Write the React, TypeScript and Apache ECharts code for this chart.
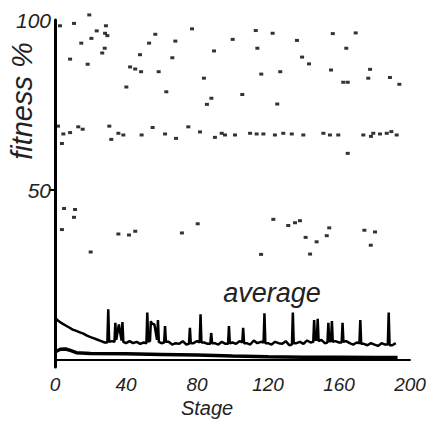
import React, { useEffect, useRef } from 'react';
import * as echarts from 'echarts';

// Upper scatter (fitness of individuals, 75-100 %)
const upperStages = [19.3, 10.7, 28.7, 23.5, 28.2, 29.5, 2.8, 20.5, 14.8, 28.0, 26.6, 8.5, 18.4, 53.0, 56.5, 67.8, 77.2, 89.6, 47.9, 66.1, 42.3, 45.2, 48.5, 58.4, 40.2, 62.7, 83.9, 88.1, 85.6, 113.1, 122.6, 100.1, 136.3, 114.0, 156.5, 169.4, 164.1, 139.2, 143.1, 116.2, 126.9, 155.5, 177.5, 176.5, 188.7, 194.0, 162.4, 164.9, 105.5, 125.2];
const upperValues = [101.5, 99.0, 98.3, 96.8, 96.1, 95.4, 98.3, 94.6, 93.2, 91.7, 90.3, 88.5, 87.0, 93.2, 95.8, 93.8, 97.4, 90.9, 89.8, 88.9, 86.2, 85.6, 84.8, 84.8, 80.3, 78.9, 82.9, 77.0, 75.2, 96.9, 96.1, 94.3, 94.0, 91.7, 96.0, 96.2, 91.7, 89.1, 87.1, 84.1, 84.8, 85.3, 85.5, 82.9, 83.1, 81.1, 81.7, 81.7, 78.1, 75.3];

// Band of points near 67 %
const bandStages = [1.7, 4.7, 8.5, 3.9, 13.1, 15.6, 30.6, 31.7, 35.7, 38.5, 48.8, 55.0, 62.0, 68.2, 75.1, 81.7, 90.1, 93.9, 95.8, 101.4, 109.9, 113.6, 117.4, 123.9, 128.6, 133.4, 139.9, 151.2, 154.9, 159.6, 173.7, 179.3, 183.1, 186.9, 192.5, 164.9, 189.5, 178.0];
const bandValues = [68.8, 66.5, 66.9, 63.7, 68.6, 67.9, 68.8, 64.9, 66.7, 66.2, 66.2, 68.4, 66.5, 65.2, 68.6, 67.1, 65.5, 66.7, 66.2, 66.2, 66.7, 66.5, 66.5, 66.2, 66.7, 66.5, 66.2, 66.7, 66.2, 66.2, 66.2, 66.7, 66.5, 66.7, 66.2, 60.8, 67.2, 65.8];

// Lower scatter (30-45 %)
const lowerStages = [5.1, 11.3, 10.7, 3.9, 20.1, 35.7, 41.7, 45.2, 71.5, 80.4, 123.0, 131.4, 135.2, 138.0, 154.5, 153.1, 141.2, 147.4, 174.3, 180.3, 177.9, 116.1, 143.7];
const lowerValues = [44.6, 44.3, 42.0, 38.4, 31.8, 37.1, 36.8, 37.9, 37.4, 40.1, 41.4, 39.6, 40.4, 41.0, 38.9, 36.6, 36.1, 34.8, 38.2, 37.7, 33.8, 31.1, 31.2];

// Average fitness line [stage, %]
const averagePoints = [
  [0, 12.5], [2, 11.5], [4, 10.8], [6, 10.2], [8, 9.6], [10, 9.0], [12, 8.6], [14, 8.2], [16, 7.8], [18, 7.2], [20, 6.8], [22, 6.4], [24, 6.0], [26, 5.6], [28, 5.2],
  [29.5, 5.2], [30, 15.0], [30.5, 5.4], [32, 5.6], [33.5, 5.4], [34, 11.0], [34.5, 6.0], [36, 10.5], [37.5, 5.8], [38, 11.2], [38.5, 5.4], [40, 5.0], [42, 5.6], [44, 5.0], [46, 5.4], [48, 4.8], [50, 5.2],
  [51.5, 5.0], [52, 14.0], [52.5, 5.6], [53.5, 5.6], [54, 11.5], [54.5, 10.8], [56, 10.5], [57.5, 6.0], [58, 11.8], [58.5, 5.4], [60, 5.0], [61.5, 5.2], [62, 10.0], [62.5, 5.4], [64, 5.4], [66, 4.6], [68, 5.0], [70, 4.8], [72, 5.6], [74, 4.6],
  [75.5, 4.8], [76, 9.5], [76.5, 5.0], [78, 5.0], [80, 5.6], [81.5, 5.2], [82, 13.5], [82.5, 5.2], [84, 5.2], [86, 4.8], [87.5, 4.8], [88, 8.0], [88.5, 5.0], [90, 5.0], [92, 4.6], [94, 5.4], [96, 4.8],
  [97.5, 4.8], [98, 10.0], [98.5, 5.0], [100, 5.2], [102, 4.8], [104, 5.6], [105.5, 5.2], [106, 9.5], [106.5, 5.0], [108, 5.0], [110, 4.6], [112, 5.8], [114, 5.0], [116, 5.4],
  [117.5, 5.2], [118, 13.8], [118.5, 5.0], [120, 5.0], [122, 4.6], [124, 5.4], [126, 5.0], [128, 4.8], [130, 5.6], [132, 4.4], [133.5, 4.6], [134, 14.0], [134.5, 5.0], [136, 5.0], [138, 5.4], [140, 4.8], [142, 5.8], [144, 5.2],
  [145.5, 5.4], [146, 11.8], [146.5, 6.0], [147.5, 6.0], [148, 12.2], [148.5, 5.6], [150, 6.0], [152, 5.0], [153.5, 5.2], [154, 11.0], [154.5, 5.6], [155.5, 5.6], [156, 11.5], [156.5, 5.4], [158, 5.6], [160, 5.2],
  [161.5, 5.2], [162, 11.0], [162.5, 5.4], [164, 5.6], [166, 5.0], [168, 4.6], [170, 5.2], [171.5, 5.0], [172, 11.8], [172.5, 4.8], [174, 4.8], [176, 4.4], [178, 5.0], [180, 4.6], [182, 4.2], [184, 5.0], [186, 4.6],
  [187.5, 4.6], [188, 14.0], [188.5, 4.4], [190, 4.4], [192, 5.0],
];

// Lowest line [stage, %]
const bottomPoints = [[0, 2.4], [3, 3.2], [6, 3.3], [9, 2.8], [12, 2.2], [20, 2.0], [40, 1.9], [60, 1.7], [80, 1.5], [100, 1.2], [120, 1.0], [140, 0.9], [160, 0.9], [180, 0.8], [193, 0.8]];

const yLabelValues = [50, 100];
const yTickValues = [50];

const FONT = '"Liberation Sans", Arial, sans-serif';
const INK = '#000';

export default function App() {
  const ref = useRef<HTMLDivElement>(null);
  useEffect(() => {
    if (!ref.current) return;
    const chart = echarts.init(ref.current, undefined, { renderer: 'svg' });
    const pts = (xs: number[], ys: number[]) => xs.map((x, i) => [x, ys[i]]);
    const scatterBase = {
      type: 'scatter',
      symbol: 'rect',
      symbolSize: [4, 3],
      itemStyle: { color: INK },
      clip: false,
    };
    chart.setOption({
      animation: false,
      backgroundColor: '#fff',
      grid: { left: 55, right: 24, top: 20, bottom: 57 },
      xAxis: {
        type: 'value',
        min: 0,
        max: 200,
        interval: 40,
        axisLine: { lineStyle: { color: INK, width: 2 } },
        axisTick: { show: false },
        splitLine: { show: false },
        axisLabel: { fontStyle: 'italic', fontSize: 19, color: '#222', margin: 8, fontFamily: FONT },
      },
      yAxis: {
        type: 'value',
        min: -2,
        max: 100,
        axisLine: { show: true, lineStyle: { color: INK, width: 3 } },
        axisTick: { show: true, customValues: yTickValues, length: 6, lineStyle: { color: INK, width: 2 } },
        splitLine: { show: false },
        axisLabel: { customValues: yLabelValues, fontStyle: 'italic', fontSize: 21, color: '#222', margin: 4, fontFamily: FONT },
      },
      graphic: [
        {
          type: 'text', x: 22, y: 101, rotation: Math.PI / 2,
          style: { text: 'fitness %', align: 'center', verticalAlign: 'middle', fontSize: 29, fontStyle: 'italic', fontFamily: FONT, fill: '#222' },
        },
        {
          type: 'text', x: 272, y: 293,
          style: { text: 'average', align: 'center', verticalAlign: 'middle', fontSize: 27, fontStyle: 'italic', fontFamily: FONT, fill: '#222' },
        },
        {
          type: 'text', x: 207, y: 408,
          style: { text: 'Stage', align: 'center', verticalAlign: 'middle', fontSize: 20, fontStyle: 'italic', fontFamily: FONT, fill: '#222' },
        },
      ],
      series: [
        { ...scatterBase, name: 'upper', data: pts(upperStages, upperValues) },
        { ...scatterBase, name: 'band', data: pts(bandStages, bandValues) },
        { ...scatterBase, name: 'lower', data: pts(lowerStages, lowerValues) },
        {
          type: 'line', name: 'average', data: averagePoints, symbol: 'none',
          lineStyle: { color: INK, width: 2.5 },
        },
        {
          type: 'line', name: 'bottom', data: bottomPoints, symbol: 'none',
          lineStyle: { color: INK, width: 3.5 },
        },
      ],
    });
    return () => chart.dispose();
  }, []);
  return <div ref={ref} style={{ width: 434, height: 424, position: 'absolute', left: 0, top: 0 }} />;
}
